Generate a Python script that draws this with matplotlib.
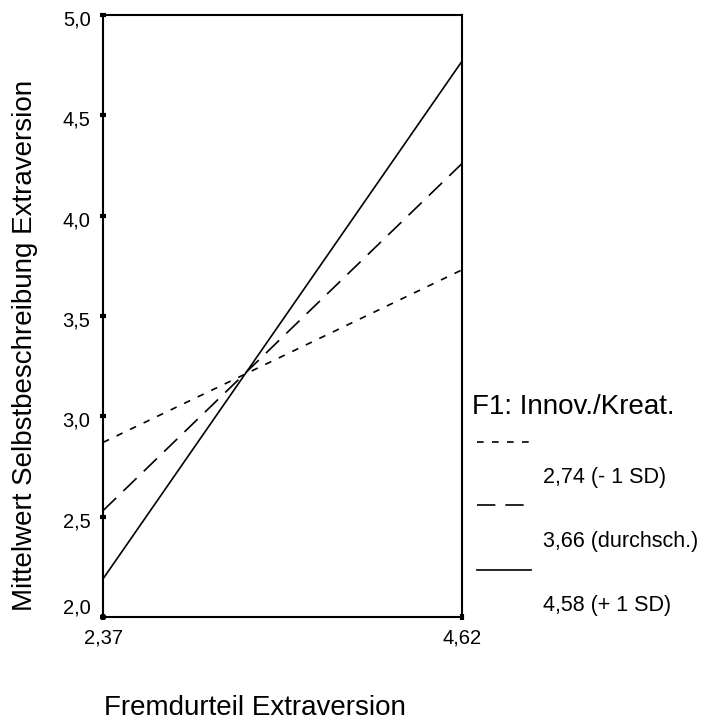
import matplotlib.pyplot as plt
import matplotlib.transforms as mtransforms
from matplotlib.lines import Line2D

plt.rcParams['font.family'] = ['Liberation Sans', 'DejaVu Sans']

# Fremdurteil Extraversion (x) and predicted Selbstbeschreibung per F1 level
x_vals = [2.37, 4.62]
low_sd = [2.87, 3.73]     # 2,74 (- 1 SD)
mean_lv = [2.53, 4.26]    # 3,66 (durchsch.)
high_sd = [2.19, 4.77]    # 4,58 (+ 1 SD)

labels = ['2,74 (- 1 SD)', '3,66 (durchsch.)', '4,58 (+ 1 SD)']
y_ticks = [2.0, 2.5, 3.0, 3.5, 4.0, 4.5, 5.0]

styles = [(0, (4, 5)), (0, (11, 6)), '-']

fig = plt.figure(figsize=(7.07, 7.22), dpi=100)
ax = fig.add_axes([0.1457, 0.1454, 0.5078, 0.8338])

for ys, ls in zip([low_sd, mean_lv, high_sd], styles):
    ax.plot(x_vals, ys, color='black', linestyle=ls, linewidth=1.2)

ax.set_xlim(x_vals[0], x_vals[1])
ax.set_ylim(2.0, 5.0)
ax.set_xticks(x_vals)
ax.set_xticklabels([f'{v:.2f}'.replace('.', ',') for v in x_vals])
ax.set_yticks(y_ticks)
ax.set_yticklabels([f'{v:.1f}'.replace('.', ',') for v in y_ticks])
ax.tick_params(direction='inout', length=4, width=3, labelsize=14.5)
ax.tick_params(axis='x', pad=6)
ax.tick_params(axis='y', pad=7)
for s in ax.spines.values():
    s.set_linewidth(1.5)

# SPSS places y tick labels a bit low, the lowest one lifted
for i, lab in enumerate(ax.get_yticklabels()):
    dy = 11 / 72 if i == 0 else -3 / 72
    lab.set_transform(lab.get_transform() +
                      mtransforms.ScaledTranslation(0, dy * 0.72, fig.dpi_scale_trans))

fig.text(25 / 707, 1 - 345 / 722, 'Mittelwert Selbstbeschreibung Extraversion',
         rotation=90, ha='center', va='center', fontsize=20)
fig.text(255 / 707, 1 - 708 / 722, 'Fremdurteil Extraversion',
         ha='center', va='center', fontsize=20)

# legend in SPSS layout (sample above its label)
fig.text(472 / 707, 1 - 407 / 722, 'F1: Innov./Kreat.', ha='left', va='center', fontsize=20)
sample_y = [442, 505, 570]
label_y = [477, 541, 605]
for ls, sy, ly, lab in zip(styles, sample_y, label_y, labels):
    fig.add_artist(Line2D([477 / 707, 531 / 707], [1 - sy / 722, 1 - sy / 722],
                          color='black', linestyle=ls, linewidth=1.2))
    fig.text(543 / 707, 1 - ly / 722, lab, ha='left', va='center', fontsize=15.5)

fig.savefig('out.png', dpi=100)
